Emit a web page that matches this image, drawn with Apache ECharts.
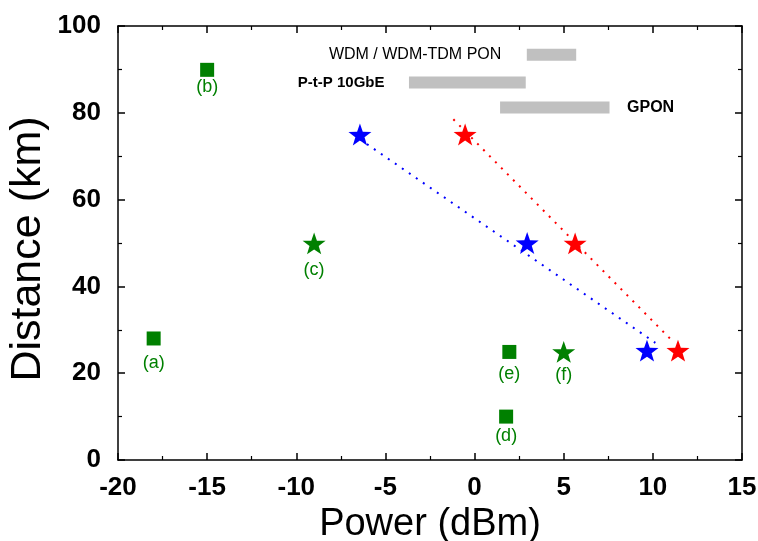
<!DOCTYPE html>
<html>
<head>
<meta charset="utf-8">
<script src="https://cdn.jsdelivr.net/npm/echarts@6/dist/echarts.min.js"></script>
<style>html,body{margin:0;padding:0;background:#fff;}#c{width:758px;height:541px;}</style>
</head>
<body>
<div id="c"></div>
<script>
// ---- data ----
const xTicks = [-20, -15, -10, -5, 0, 5, 10, 15];
const yTicks = [0, 20, 40, 60, 80, 100];
const greenSquares = [[-18.0, 28.0, '(a)'], [-15.0, 89.9, '(b)'], [1.77, 10.0, '(d)'], [1.95, 24.9, '(e)']];
const greenStars = [[-9.0, 49.9, '(c)'], [5.0, 24.9, '(f)']];
const blueStars = [[-6.43, 75.0], [2.95, 50.0], [9.67, 25.2]];
const redStars = [[-0.53, 75.0], [5.64, 49.9], [11.41, 25.2]];
const blueFit = [[-6.43, 73.9], [10.14, 27.0]];
const redFit = [[-1.19, 78.5], [11.15, 27.2]];
const rangeNames = ['WDM / WDM-TDM PON', 'P-t-P 10GbE', 'GPON'];
const rangeStart = [2.93, -3.68, 1.43];
const rangeEnd = [5.70, 2.87, 7.57];
const rangeDist = [93.4, 87.0, 81.2];
const xTitle = 'Power (dBm)';
const yTitle = 'Distance (km)';

// ---- styles ----
const squareLabelGap = [9, 1.6, 3, 6];
const starLabelGap = [6.5, 3];
const STAR = 'path://M0,-10L2.35,-3.24L9.51,-3.09L3.8,1.24L5.88,8.09L0,4.05L-5.88,8.09L-3.8,1.24L-9.51,-3.09L-2.35,-3.24Z';
const FONT = "'Liberation Sans', Arial, Helvetica, sans-serif";
const GREEN = '#008000';

function axisCommon() {
  return {
    axisLine: { show: true, onZero: false, lineStyle: { color: '#000', width: 1.5 } },
    axisTick: { show: true, inside: true, length: 7, lineStyle: { color: '#000', width: 1.5 } },
    minorTick: { show: true, splitNumber: 2, length: 4, lineStyle: { color: '#000', width: 1.2 } },
    splitLine: { show: false },
    minorSplitLine: { show: false }
  };
}

const series = [];

rangeNames.forEach((n, i) => {
  series.push({
    type: 'line', silent: true,
    data: [[rangeStart[i], rangeDist[i]], [rangeEnd[i], rangeDist[i]]],
    symbol: 'none', lineStyle: { color: '#c0c0c0', width: 12, cap: 'butt', opacity: 1 }, z: 1
  });
});
const labelPos = ['left', 'left', 'right'];
const labelDistance = [25, 24, 17];
const labelBold = ['normal', 'bold', 'bold'];
const labelSize = [16, 15, 16];
rangeNames.forEach((n, i) => {
  const x = labelPos[i] === 'left' ? rangeStart[i] : rangeEnd[i];
  series.push({
    type: 'scatter', silent: true, symbolSize: 1,
    itemStyle: { color: 'rgba(0,0,0,0)', opacity: 1 },
    data: [[x, rangeDist[i], n]],
    label: {
      show: true, position: labelPos[i], distance: labelDistance[i],
      formatter: p => p.value[2], color: '#000', opacity: 1, fontFamily: FONT,
      fontWeight: labelBold[i], fontSize: labelSize[i]
    }
  });
});

series.push({
  type: 'line', data: blueFit, symbol: 'none', silent: true,
  lineStyle: { color: '#0000ff', width: 2, type: [2, 6.5], opacity: 1 }, z: 2
});
series.push({
  type: 'line', data: redFit, symbol: 'none', silent: true,
  lineStyle: { color: '#ff0000', width: 2, type: [2, 6.5], opacity: 1 }, z: 2
});

function greenLabel(d) {
  return { show: true, position: 'bottom', distance: d, formatter: p => p.value[2],
    color: GREEN, opacity: 1, fontSize: 18, fontFamily: FONT };
}
series.push({
  type: 'scatter', symbol: 'rect', symbolSize: 14,
  itemStyle: { color: GREEN, opacity: 1 }, z: 3,
  data: greenSquares.map((d, i) => ({ value: d, label: greenLabel(squareLabelGap[i]) }))
});
series.push({
  type: 'scatter', symbol: STAR, symbolSize: 23, symbolKeepAspect: true,
  itemStyle: { color: GREEN, opacity: 1 }, z: 3,
  data: greenStars.map((d, i) => ({ value: d, label: greenLabel(starLabelGap[i]) }))
});
series.push({
  type: 'scatter', data: blueStars, symbol: STAR, symbolSize: 23, symbolKeepAspect: true,
  itemStyle: { color: '#0000ff', opacity: 1 }, z: 4
});
series.push({
  type: 'scatter', data: redStars, symbol: STAR, symbolSize: 23, symbolKeepAspect: true,
  itemStyle: { color: '#ff0000', opacity: 1 }, z: 4
});

const chart = echarts.init(document.getElementById('c'), null, { renderer: 'canvas' });
chart.setOption({
  animation: false,
  backgroundColor: '#fff',
  grid: { left: 118, right: 16, top: 26, bottom: 81, containLabel: false, outerBoundsMode: 'none' },
  graphic: [{
    type: 'text', x: 28, y: 249, rotation: Math.PI / 2,
    style: { text: yTitle, font: "43px 'Liberation Sans', Arial, sans-serif", fill: '#000',
      align: 'center', verticalAlign: 'middle' }
  }],
  xAxis: [
    Object.assign(axisCommon(), {
      type: 'value', position: 'bottom', min: xTicks[0], max: xTicks[xTicks.length - 1], interval: 5,
      name: xTitle, nameLocation: 'middle', nameGap: 43,
      nameTextStyle: { fontSize: 38, fontFamily: FONT, color: '#000' },
      axisLabel: { show: true, margin: 15, fontSize: 26, fontWeight: 'bold', fontFamily: FONT, color: '#000' }
    }),
    Object.assign(axisCommon(), {
      type: 'value', position: 'top', min: xTicks[0], max: xTicks[xTicks.length - 1], interval: 5,
      axisLabel: { show: false }
    })
  ],
  yAxis: [
    Object.assign(axisCommon(), {
      type: 'value', position: 'left', min: yTicks[0], max: yTicks[yTicks.length - 1], interval: 20,
      axisLabel: { show: true, margin: 17, fontSize: 26, fontWeight: 'bold', fontFamily: FONT, color: '#000' }
    }),
    Object.assign(axisCommon(), {
      type: 'value', position: 'right', min: yTicks[0], max: yTicks[yTicks.length - 1], interval: 20,
      axisLabel: { show: false }
    })
  ],
  series: series
});
</script>
</body>
</html>
